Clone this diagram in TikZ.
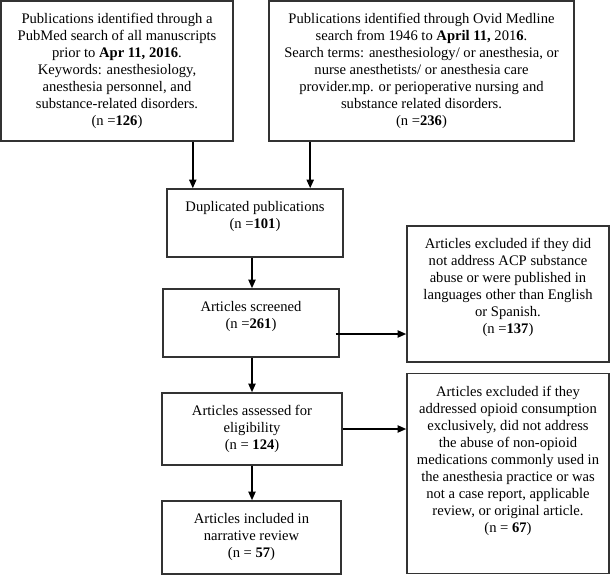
\documentclass[tikz,border=0pt]{standalone}
\usepackage{fontspec}
\setmainfont{Liberation Serif}
\usetikzlibrary{arrows.meta,calc}
\begin{document}
\begin{tikzpicture}[x=0.75pt,y=-0.75pt,
  box/.style={draw=black!80,line width=1.2pt,minimum width=#1,inner sep=0pt},
  txt/.style={anchor=north,align=center,inner sep=0pt,font=\fontsize{10.95}{12.75}\selectfont},
  arr/.style={draw=black,line width=1.1pt,-{Triangle[length=6.5pt,width=5.5pt]}}]
\useasboundingbox (0,0) rectangle (611,575);
% boxes
\node[box=174pt,minimum height=105pt] (b1) at (117,71) {};
\node[box=228.75pt,minimum height=105pt] (b2) at (421.5,71) {};
\node[box=132pt,minimum height=51pt] (b3) at (255,223) {};
\node[box=132pt,minimum height=51pt] (b4) at (251,323) {};
\node[box=151.5pt,minimum height=102pt] (b5) at (508,294) {};
\node[box=135pt,minimum height=54pt] (b6) at (252,429) {};
\node[box=151.5pt,minimum height=150pt] (b7) at (508,473.5) {};
\node[box=134pt,minimum height=54.75pt] (b8) at (251.5,537.5) {};
% texts
\node[txt] (t1) at ($(b1.north)+(0,13)$) {Publications identified through a\\PubMed search of all manuscripts\\prior to \textbf{Apr 11, 2016}.\\Keywords: anesthesiology,\\anesthesia personnel, and\\substance-related disorders.\\(n =\textbf{126})};
\node[txt] (t2) at ($(b2.north)+(0,13)$) {Publications identified through Ovid Medline\\search from 1946 to \textbf{April 11,} 201\textbf{6}.\\Search terms: anesthesiology/ or anesthesia, or\\nurse anesthetists/ or anesthesia care\\provider.mp. or perioperative nursing and\\substance related disorders.\\(n =\textbf{236})};
\node[txt] (t3) at ($(b3.north)+(0,13)$) {Duplicated publications\\(n =\textbf{101})};
\node[txt] (t4) at ($(b4.north)+(0,13)$) {Articles screened\\(n =\textbf{261})};
\node[txt] (t5) at ($(b5.north)+(0,13)$) {Articles excluded if they did\\not address ACP substance\\abuse or were published in\\languages other than English\\or Spanish.\\(n =\textbf{137})};
\node[txt] (t6) at ($(b6.north)+(0,13)$) {Articles assessed for\\eligibility\\(n = \textbf{124})};
\node[txt] (t7) at ($(b7.north)+(0,13)$) {Articles excluded if they\\addressed opioid consumption\\exclusively, did not address\\the abuse of non-opioid\\medications commonly used in\\the anesthesia practice or was\\not a case report, applicable\\review, or original article.\\(n = \textbf{67})};
\node[txt] (t8) at ($(b8.north)+(0,13)$) {Articles included in\\narrative review\\(n = \textbf{57})};
% connectors
\draw[arr] ($(b1.south east)+(-41,0)$) coordinate (c1) -- (c1 |- b3.north);
\draw[arr] ($(b2.south west)+(42,0)$) coordinate (c2) -- (c2 |- b3.north);
\draw[arr] ($(b4.north)+(1,0)$) coordinate (c3) ++(0,0) (c3 |- b3.south) -- (c3);
\draw[arr] ($(b4.east)+(-4,11)$) coordinate (c4) -- (c4 -| b5.west);
\draw[arr] (b4.south -| b6.north) -- (b6.north);
\draw[arr] (b6.east) -- (b6.east -| b7.west);
\draw[arr] (b6.south) -- (b6.south |- b8.north);
\end{tikzpicture}
\end{document}
